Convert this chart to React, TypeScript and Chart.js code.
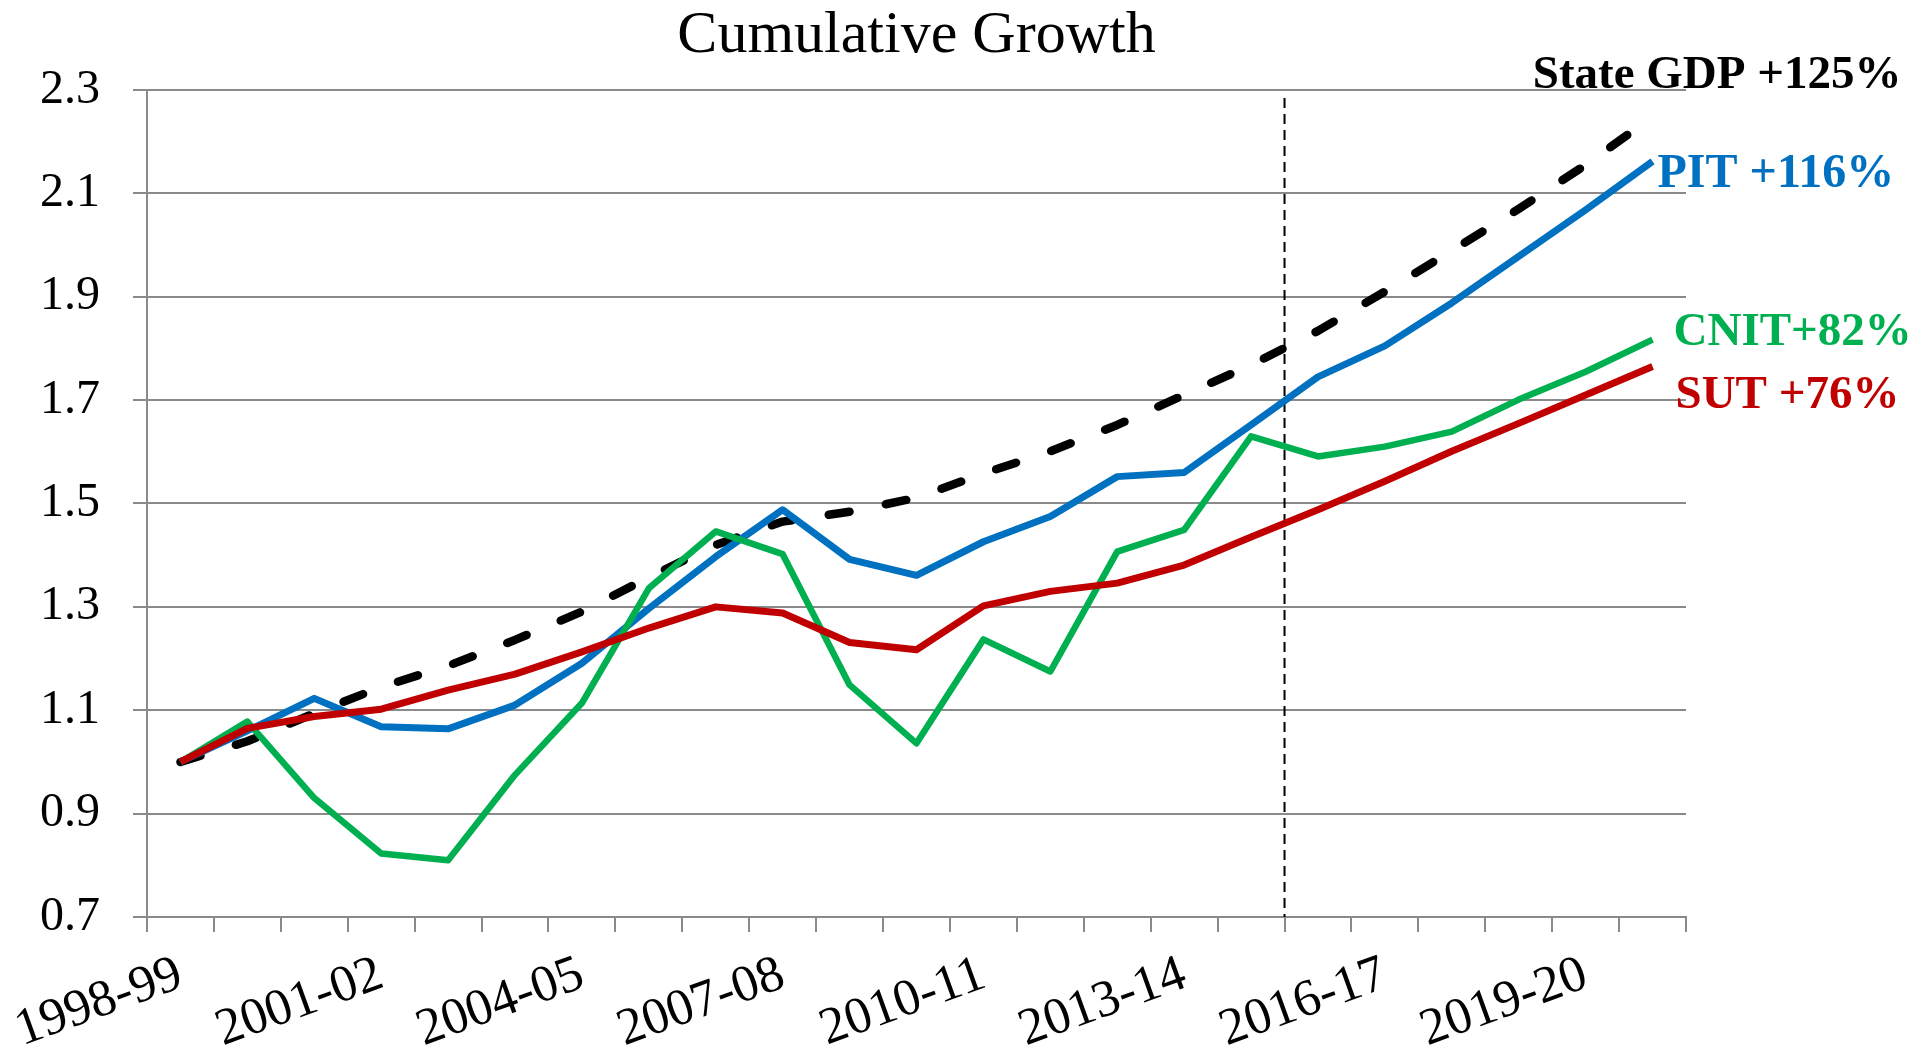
import React, { useEffect, useRef } from 'react';
import { Chart, registerables } from 'chart.js';

Chart.register(...registerables);

const categories = [
  '1998-99', '1999-00', '2000-01', '2001-02', '2002-03', '2003-04', '2004-05', '2005-06',
  '2006-07', '2007-08', '2008-09', '2009-10', '2010-11', '2011-12', '2012-13', '2013-14',
  '2014-15', '2015-16', '2016-17', '2017-18', '2018-19', '2019-20', '2020-21',
];
const labelEvery = 3;

const stateGdp = [1.0, 1.04, 1.094, 1.145, 1.186, 1.236, 1.291, 1.357, 1.42, 1.465, 1.484, 1.511, 1.558, 1.601, 1.652, 1.71, 1.768, 1.834, 1.91, 1.989, 2.07, 2.155, 2.248];
const pit = [1.0, 1.06, 1.123, 1.068, 1.064, 1.11, 1.191, 1.297, 1.397, 1.488, 1.392, 1.361, 1.426, 1.475, 1.552, 1.56, 1.652, 1.745, 1.805, 1.888, 1.978, 2.068, 2.162];
const cnit = [1.0, 1.078, 0.93, 0.823, 0.81, 0.975, 1.114, 1.336, 1.446, 1.402, 1.149, 1.036, 1.237, 1.175, 1.407, 1.449, 1.63, 1.591, 1.61, 1.639, 1.701, 1.755, 1.817];
const sut = [1.0, 1.065, 1.088, 1.102, 1.139, 1.17, 1.213, 1.259, 1.3, 1.288, 1.231, 1.217, 1.302, 1.33, 1.346, 1.381, 1.435, 1.488, 1.543, 1.601, 1.655, 1.71, 1.765];

const yMin = 0.7;
const yMax = 2.3;
const yStep = 0.2;

const dividerBetween = ['2014-15', '2015-16'];

const titleText = 'Cumulative Growth';
const gdpLabel = 'State GDP +125%';
const pitLabel = 'PIT +116%';
const cnitLabel = 'CNIT+82%';
const sutLabel = 'SUT +76%';

const BLUE = '#0070C0';
const GREEN = '#00B050';
const RED = '#C00000';
const GRID = '#8a8a8a';

const annotationPlugin = {
  id: 'annotations',
  beforeDatasetsDraw(chart: any) {
    const { ctx, chartArea, scales } = chart;
    const x = scales.x;
    const i0 = categories.indexOf(dividerBetween[0]);
    const i1 = categories.indexOf(dividerBetween[1]);
    const xb = (x.getPixelForValue(i0) + x.getPixelForValue(i1)) / 2;
    ctx.save();
    ctx.strokeStyle = '#000';
    ctx.lineWidth = 2;
    ctx.setLineDash([10, 6]);
    ctx.beginPath();
    ctx.moveTo(xb, chartArea.top + 8);
    ctx.lineTo(xb, chartArea.bottom);
    ctx.stroke();
    ctx.restore();
  },
  afterDraw(chart: any) {
    const { ctx, scales } = chart;
    const x = scales.x;
    const y = scales.y;
    const last = categories.length - 1;
    const xl = x.getPixelForValue(last);
    ctx.save();
    ctx.font = 'bold 47px "Liberation Serif", serif';
    ctx.textBaseline = 'alphabetic';

    ctx.fillStyle = '#000';
    ctx.textAlign = 'right';
    ctx.fillText(gdpLabel, xl + 249, y.getPixelForValue(stateGdp[last]) - 29);

    ctx.textAlign = 'left';
    ctx.fillStyle = BLUE;
    ctx.font = 'bold 48px "Liberation Serif", serif';
    ctx.fillText(pitLabel, xl + 5, y.getPixelForValue(pit[last]) + 26);

    ctx.font = 'bold 47px "Liberation Serif", serif';
    ctx.fillStyle = GREEN;
    ctx.fillText(cnitLabel, xl + 21, y.getPixelForValue(cnit[last]) + 5);

    ctx.fillStyle = RED;
    ctx.fillText(sutLabel, xl + 23, y.getPixelForValue(sut[last]) + 41);
    ctx.restore();
  },
};

export default function App() {
  const canvasRef = useRef<HTMLCanvasElement | null>(null);

  useEffect(() => {
    if (!canvasRef.current) return;
    const lineBase = { pointRadius: 0, pointHoverRadius: 0, tension: 0, fill: false, borderJoinStyle: 'round' as const };
    const chart = new Chart(canvasRef.current, {
      type: 'line',
      data: {
        labels: categories,
        datasets: [
          { label: 'SUT', data: sut, borderColor: RED, backgroundColor: RED, borderWidth: 7, ...lineBase },
          { label: 'CNIT', data: cnit, borderColor: GREEN, backgroundColor: GREEN, borderWidth: 6.5, ...lineBase },
          { label: 'PIT', data: pit, borderColor: BLUE, backgroundColor: BLUE, borderWidth: 7, ...lineBase },
          {
            label: 'State GDP', data: stateGdp, borderColor: '#000', backgroundColor: '#000', borderWidth: 8.5,
            borderDash: [21, 37], borderCapStyle: 'round' as const, ...lineBase,
          },
        ],
      },
      options: {
        animation: false,
        responsive: true,
        maintainAspectRatio: false,
        layout: { padding: { left: 0, right: 241, top: 0, bottom: 0 } },
        plugins: {
          legend: { display: false },
          tooltip: { enabled: false },
          title: {
            display: true,
            text: titleText,
            fullSize: false,
            color: '#000',
            font: { family: '"Liberation Serif", serif', size: 60, weight: 'normal', lineHeight: 1.2 },
            padding: { top: 0, bottom: 18 },
          },
        },
        scales: {
          x: {
            type: 'category',
            offset: true,
            grid: {
              offset: true,
              drawOnChartArea: false,
              drawTicks: true,
              tickLength: 15,
              color: GRID,
              lineWidth: 2,
            },
            border: { display: true, color: GRID, width: 2 },
            ticks: {
              autoSkip: false,
              minRotation: 20,
              maxRotation: 20,
              padding: 12,
              color: '#000',
              font: { family: '"Liberation Serif", serif', size: 52 },
              callback: (_v: any, i: number) => (i % labelEvery === 0 ? categories[i] : ''),
            },
            afterFit: (scale: any) => { scale.height = 134; },
          },
          y: {
            min: yMin,
            max: yMax,
            grid: { color: GRID, lineWidth: 2, drawTicks: true, tickLength: 14 },
            border: { display: true, color: GRID, width: 2 },
            ticks: {
              stepSize: yStep,
              padding: 33,
              color: '#000',
              font: { family: '"Liberation Serif", serif', size: 48 },
              callback: (v: any) => Number(v).toFixed(1),
            },
            afterFit: (scale: any) => { scale.width = 147; },
          },
        },
      },
      plugins: [annotationPlugin],
    });
    return () => chart.destroy();
  }, []);

  return (
    <div style={{ position: 'absolute', left: 0, top: 0, width: '1927px', height: '1051px', background: '#fff' }}>
      <canvas ref={canvasRef} />
    </div>
  );
}
